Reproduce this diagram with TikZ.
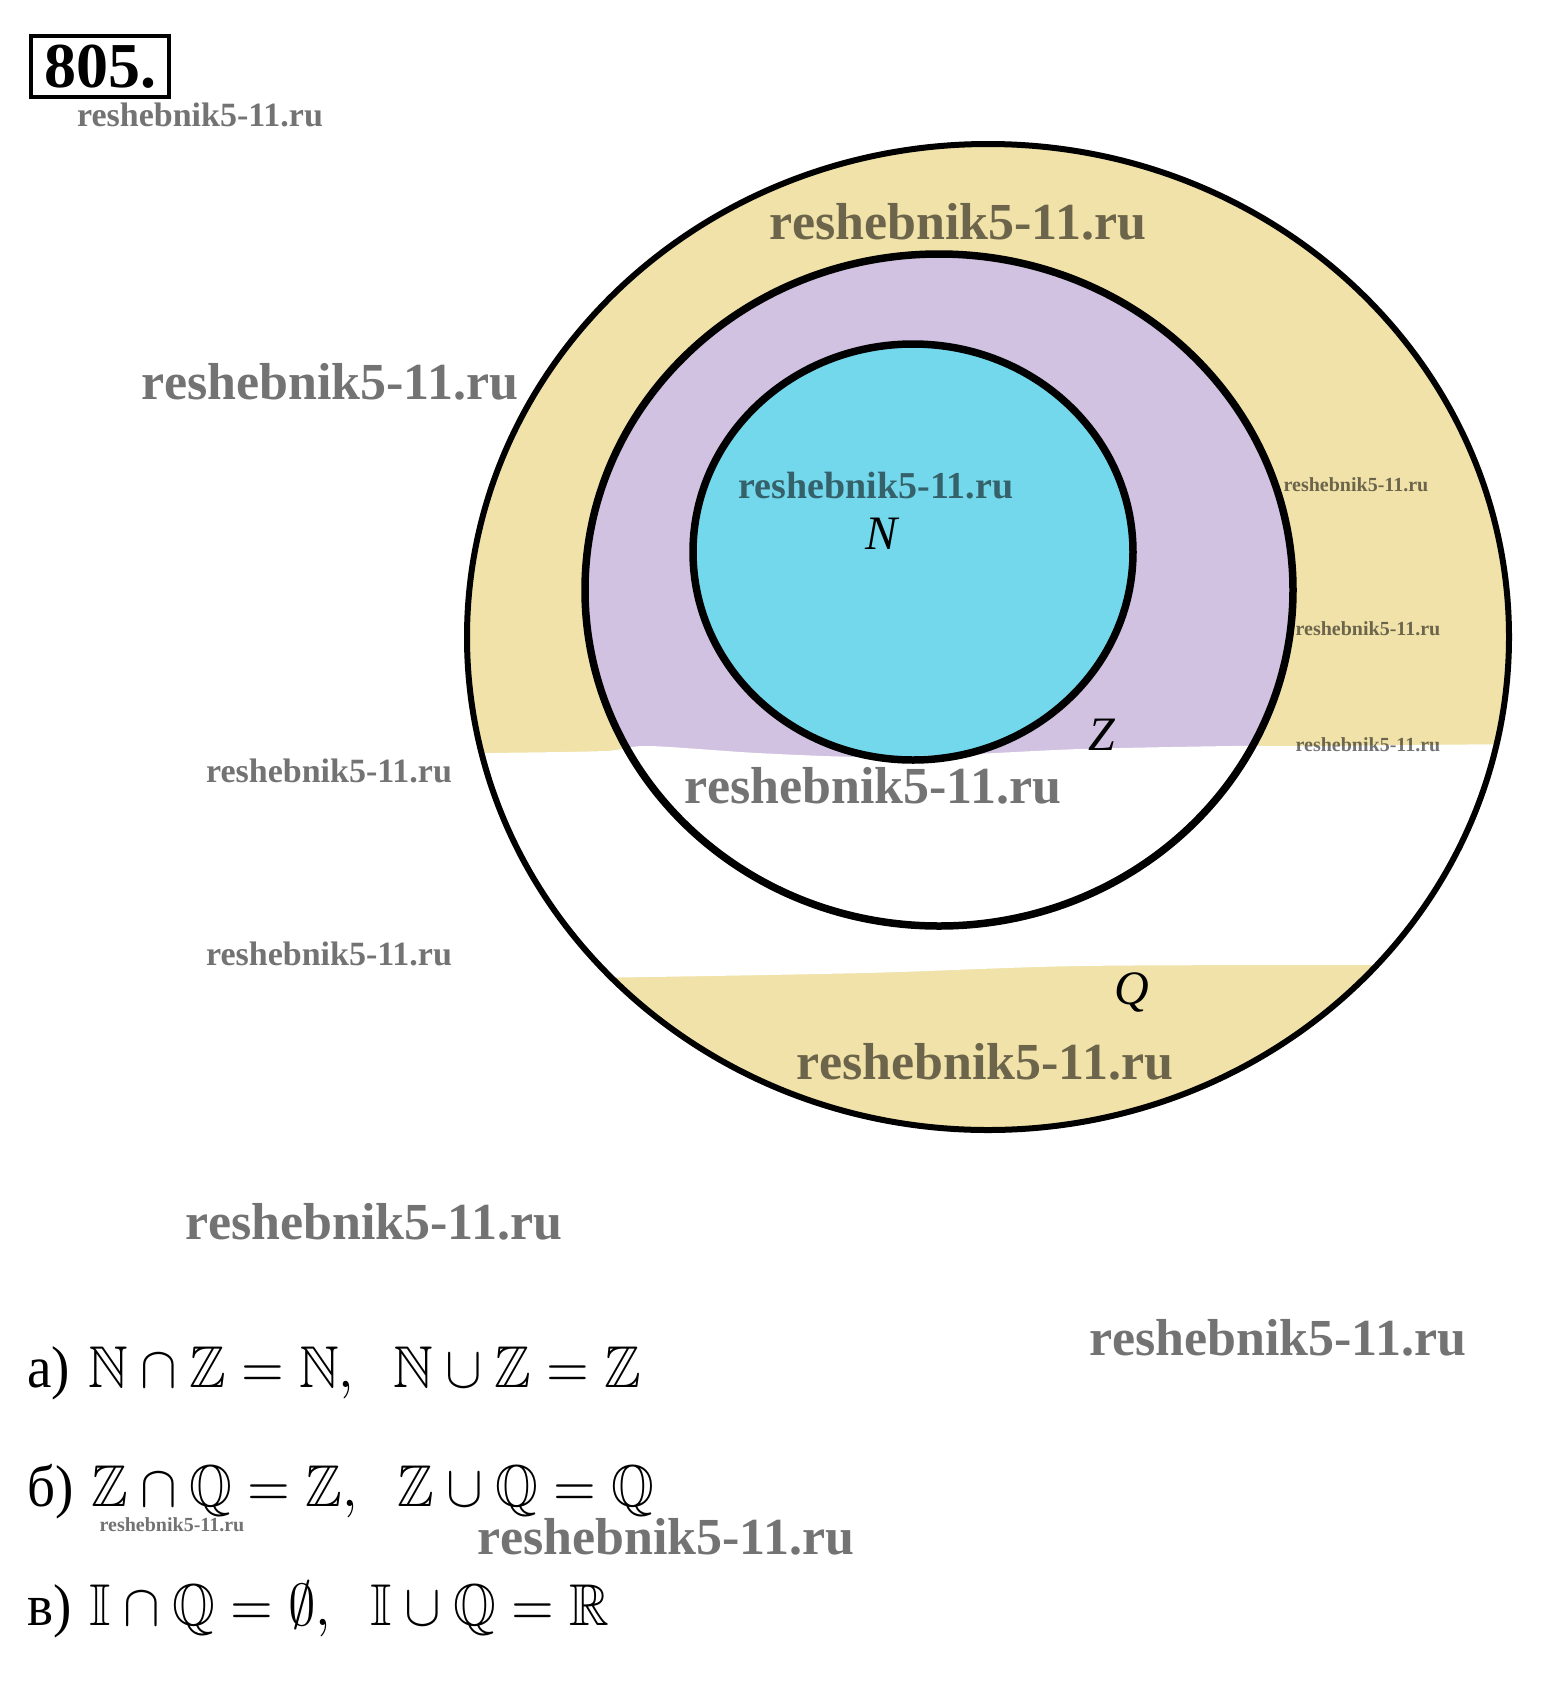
\documentclass[tikz,border=0pt]{standalone}
\usepackage{amssymb}
\usepackage{graphicx}
\usepackage{fontspec}
\newfontfamily\serfont{Liberation Serif}
\definecolor{qcol}{RGB}{240,226,168}
\definecolor{zcol}{RGB}{208,194,224}
\definecolor{ncol}{RGB}{116,216,236}
\tikzset{
  wm/.style={text=black, text opacity=0.55, inner sep=0pt,
    font=\serfont\bfseries\fontsize{#1}{#1}\selectfont},
  setlabel/.style={inner sep=0pt, font=\serfont\itshape\fontsize{48}{48}\selectfont},
  ring/.style={draw=black, line width=7.5pt},
  formula/.style={anchor=base west, inner sep=0pt}
}
\begin{document}
\begin{tikzpicture}[x=1pt,y=-1pt]
\useasboundingbox (0,0) rectangle (1551,1695);
\fill[white] (0,0) rectangle (1551,1695);
\coordinate (cq) at (988,637);
\coordinate (cz) at (939,590);
\coordinate (cn) at (913,552);
% fills
\fill[qcol] (cq) ellipse [x radius=521pt, y radius=493pt];
\fill[zcol] (cz) ellipse [x radius=354pt, y radius=336pt];
\fill[ncol] (cn) ellipse [x radius=220pt, y radius=208pt];
% white erased band
\begin{scope}
\clip (cq) ellipse [x radius=518pt, y radius=490pt];
\fill[white] plot[smooth] coordinates {(440,754) (492,753) (605,751) (648,746) (757,753) (865,757) (973,754) (1081,749) (1232,746) (1297,746) (1520,744)}
  -- plot[smooth] coordinates {(1520,965) (1383,965) (1081,966) (865,973) (584,978) (440,979)} -- cycle;
\end{scope}
% outlines
\draw[ring, line width=6pt] (cq) ellipse [x radius=521pt, y radius=493pt];
\draw[ring] (cz) ellipse [x radius=354pt, y radius=336pt];
\draw[ring] (cn) ellipse [x radius=220pt, y radius=208pt];
% set labels
\node[setlabel] (lN) at (881,534) {N};
\node[setlabel] (lZ) at (1102,735) {Z};
\node[setlabel] (lQ) at (1132,992) {Q};
% title box
\node[draw, line width=4pt, minimum width=138pt, minimum height=61pt, inner sep=0pt,
  anchor=north west, font=\serfont\bfseries\fontsize{64}{64}\selectfont] (title) at (29,34) {805.};
% watermarks
\node[wm=34] (wm1) at (200,115) {reshebnik5-11.ru};
\node[wm=52] (wm2) at (958,222) {reshebnik5-11.ru};
\node[wm=52] (wm3) at (330,382) {reshebnik5-11.ru};
\node[wm=38] (wm4) at (876,486) {reshebnik5-11.ru};
\node[wm=20] (wm5) at (1356,485) {reshebnik5-11.ru};
\node[wm=20] (wm6) at (1368,629) {reshebnik5-11.ru};
\node[wm=20] (wm7) at (1368,745) {reshebnik5-11.ru};
\node[wm=34] (wm8) at (329,771) {reshebnik5-11.ru};
\node[wm=52] (wm9) at (873,786) {reshebnik5-11.ru};
\node[wm=34] (wm10) at (329,954) {reshebnik5-11.ru};
\node[wm=52] (wm11) at (985,1062) {reshebnik5-11.ru};
\node[wm=52] (wm12) at (374,1222) {reshebnik5-11.ru};
\node[wm=52] (wm13) at (1278,1338) {reshebnik5-11.ru};
\node[wm=20] (wm14) at (172,1525) {reshebnik5-11.ru};
\node[wm=52] (wm15) at (666,1537) {reshebnik5-11.ru};
% formulas
\node[formula] (fa) at (27,1387) {\scalebox{5.5}[5.9]{{\serfont а)}\ $\mathbb{N}\cap\mathbb{Z}=\mathbb{N},\;\; \mathbb{N}\cup\mathbb{Z}=\mathbb{Z}$}};
\node[formula] (fb) at (27,1506) {\scalebox{5.5}[5.9]{{\serfont б)}\ $\mathbb{Z}\cap\mathbb{Q}=\mathbb{Z},\;\; \mathbb{Z}\cup\mathbb{Q}=\mathbb{Q}$}};
\node[formula] (fc) at (27,1625) {\scalebox{5.5}[5.9]{{\serfont в)}\ $\mathbb{I}\cap\mathbb{Q}=\emptyset,\;\; \mathbb{I}\cup\mathbb{Q}=\mathbb{R}$}};
\end{tikzpicture}
\end{document}
